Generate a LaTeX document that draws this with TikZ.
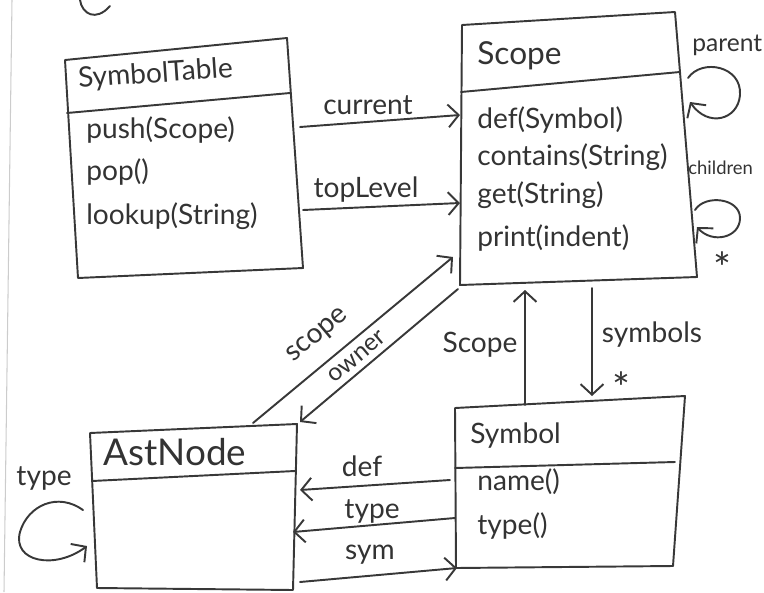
\documentclass[tikz,border=0pt]{standalone}
\usepackage{fontspec}
\setmainfont{Lato}
\usetikzlibrary{arrows.meta,positioning}

\begin{document}
\begin{tikzpicture}[x=0.02cm,y=-0.02cm,
  pencil/.style={draw=black!78,line width=1.1pt,line cap=round,line join=round},
  ref/.style={pencil,-{Straight Barb[length=6pt,width=13pt,line width=1.1pt]}},
  txt/.style={text=black!80,font=\fontsize{16}{18}\selectfont,inner sep=0pt},
  member/.style={txt,anchor=west},
  cname/.style={txt,anchor=west},
  lbl/.style={txt},
  many/.style={txt,font=\fontsize{24}{24}\selectfont}]
\useasboundingbox (0,0) rectangle (764,592);

%% page margin and cut-off scribble
\draw[black!20,line width=0.6pt] (12,0) -- (4,592);
\draw[pencil] (80,0) .. controls (82,14) and (96,22) .. (110,6);

%% SymbolTable
\coordinate (st-nw) at (65,60);
\coordinate (st-ne) at (287,38);
\coordinate (st-se) at (303,268);
\coordinate (st-sw) at (78,278);
\draw[pencil] (st-nw) -- (st-ne) -- (st-se) -- (st-sw) -- cycle;
\draw[pencil] (67,113) -- (290,93);
\node[cname,rotate=4] (st-name) at (78,80) {SymbolTable};
\node[member] (st-push) at (86,130) {push(Scope)};
\node[member] (st-pop) [below=24pt of st-push.west,anchor=west] {pop()};
\node[member] (st-lookup) [below=25pt of st-pop.west,anchor=west] {lookup(String)};

%% Scope
\coordinate (sc-nw) at (462,25);
\coordinate (sc-ne) at (675,12);
\coordinate (sc-se) at (697,277);
\coordinate (sc-sw) at (460,285);
\draw[pencil] (sc-nw) -- (sc-ne) -- (sc-se) -- (sc-sw) -- cycle;
\draw[pencil] (461,92) -- (680,72);
\node[cname,font=\fontsize{18}{20}\selectfont] (sc-name) at (477,56) {Scope};
\node[member] (sc-def) at (477,120) {def(Symbol)};
\node[member] (sc-contains) [below=21pt of sc-def.west,anchor=west] {contains(String)};
\node[member] (sc-get) [below=22pt of sc-contains.west,anchor=west] {get(String)};
\node[member] (sc-print) [below=24pt of sc-get.west,anchor=west] {print(indent)};

%% Symbol
\coordinate (sy-nw) at (455,408);
\coordinate (sy-ne) at (685,396);
\coordinate (sy-se) at (673,566);
\coordinate (sy-sw) at (456,568);
\draw[pencil] (sy-nw) -- (sy-ne) -- (sy-se) -- (sy-sw) -- cycle;
\draw[pencil] (455,468) -- (675,462);
\node[cname] (sy-name) at (470,436) {Symbol};
\node[member] (sy-nm) at (477,482) {name()};
\node[member] (sy-type) [below=25pt of sy-nm.west,anchor=west] {type()};

%% AstNode
\coordinate (an-nw) at (90,433);
\coordinate (an-ne) at (297,424);
\coordinate (an-se) at (293,590);
\coordinate (an-sw) at (97,588);
\draw[pencil] (an-nw) -- (an-ne) -- (an-se) -- (an-sw) -- cycle;
\draw[pencil] (92,481) -- (295,471);
\node[cname,font=\fontsize{21}{23}\selectfont] (an-name) at (103,452) {AstNode};

%% end points of the links
\coordinate (st-cur) at (300,127);
\coordinate (sc-cur) at (460,115);
\coordinate (st-top) at (303,210);
\coordinate (sc-top) at (460,203);
\coordinate (an-scope) at (253,423);
\coordinate (sc-scope) at (453,257);
\coordinate (sc-owner) at (458,289);
\coordinate (an-owner) at (300,422);
\coordinate (sy-up) at (525,405);
\coordinate (sc-up) at (525,290);
\coordinate (sc-down) at (592,288);
\coordinate (sy-down) at (592,396);
\coordinate (sy-def) at (450,480);
\coordinate (an-def) at (300,490);
\coordinate (sy-typ) at (455,518);
\coordinate (an-typ) at (293,532);
\coordinate (an-sym) at (300,582);
\coordinate (sy-sym) at (457,568);

\draw[ref] (st-cur) -- (sc-cur);
\draw[ref] (st-top) -- (sc-top);
\draw[ref] (an-scope) -- (sc-scope);
\draw[ref] (sc-owner) -- (an-owner);
\draw[ref] (sy-up) -- (sc-up);
\draw[ref] (sc-down) -- (sy-down);
\draw[ref] (sy-def) -- (an-def);
\draw[ref] (sy-typ) -- (an-typ);
\draw[ref] (an-sym) -- (sy-sym);

%% self links
\draw[ref] (688,78) .. controls (702,58) and (742,66) .. (740,95)
  .. controls (738,120) and (708,128) .. (690,102);
\draw[ref] (695,210) .. controls (705,194) and (740,198) .. (740,218)
  .. controls (740,238) and (712,244) .. (697,227);
\draw[ref] (83,510) .. controls (58,492) and (28,505) .. (20,532)
  .. controls (12,562) and (55,570) .. (87,546);

%% labels
\node[lbl] (l-cur) at (368,105) {current};
\node[lbl] (l-top) at (366,190) {topLevel};
\node[lbl,rotate=40] (l-scope) at (318,336) {scope};
\node[lbl,rotate=40,font=\fontsize{14}{16}\selectfont] (l-owner) at (357,357) {owner};
\node[lbl] (l-sc) at (480,345) {Scope};
\node[lbl] (l-sym) at (652,335) {symbols};
\node[many] (l-many) at (621,388) {*};
\node[lbl] (l-def) at (362,466) {def};
\node[lbl] (l-typ) at (372,511) {type};
\node[lbl] (l-sm) at (370,555) {sym};
\node[lbl,anchor=west,font=\fontsize{14}{16}\selectfont] (l-parent) at (692,45) {parent};
\node[lbl,anchor=west,font=\fontsize{10.5}{12}\selectfont] (l-child) at (688,168) {children};
\node[many] (l-many2) at (722,268) {*};
\node[lbl] (l-atype) at (44,478) {type};
\end{tikzpicture}
\end{document}
